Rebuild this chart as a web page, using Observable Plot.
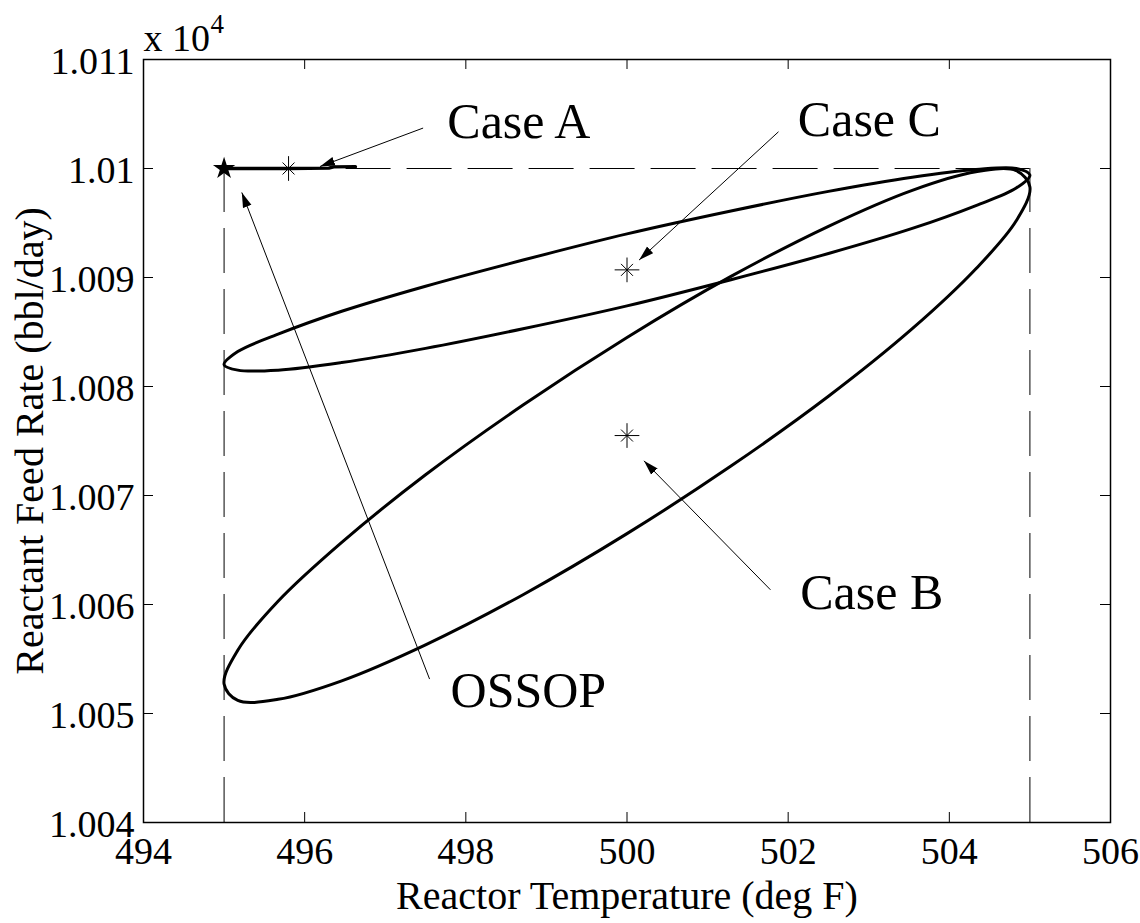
<!DOCTYPE html>
<html>
<head>
<meta charset="utf-8">
<script src="https://cdn.jsdelivr.net/npm/d3@7"></script>
<script src="https://cdn.jsdelivr.net/npm/@observablehq/plot@0.6"></script>
<style>
  html, body { margin: 0; padding: 0; background: #fff; }
</style>
</head>
<body>
<div id="chart"></div>
<script>
// Axis ticks (temperature in deg F, feed rate in bbl/day shown as x 10^4)
const xTicks = [494, 496, 498, 500, 502, 504, 506];
const xTickLabels = ["494", "496", "498", "500", "502", "504", "506"];
const yTicks = [10040, 10050, 10060, 10070, 10080, 10090, 10100, 10110];
const yTickLabels = ["1.004", "1.005", "1.006", "1.007", "1.008", "1.009", "1.01", "1.011"];

// Operating limits (dashed box)
const tempLimits = [495, 505];
const feedLimit = 10100;
const feedFloor = 10040;

// Case A trajectory along the feed-rate limit
const caseA_T = [495.0, 495.8, 496.30, 496.36, 496.63];
const caseA_F = [10100.0, 10100.0, 10100.03, 10100.15, 10100.17];

// Case B closed trajectory
const caseB_T = [505.00, 504.83, 504.33, 503.54, 502.50, 501.29, 500.00, 498.71, 497.50, 496.46, 495.67, 495.17,
                 495.00, 495.17, 495.67, 496.46, 497.50, 498.71, 500.00, 501.29, 502.50, 503.54, 504.33, 504.83];
const caseB_F = [10098.3, 10095.2, 10090.8, 10085.3, 10079.1, 10072.7, 10066.5, 10060.9, 10056.3, 10053.0, 10051.3, 10051.2,
                 10052.7, 10055.8, 10060.3, 10065.7, 10071.9, 10078.3, 10084.5, 10090.1, 10094.7, 10098.0, 10099.7, 10099.8];

// Case C closed trajectory
const caseC_T = [505.00, 504.83, 504.33, 503.54, 502.50, 501.29, 500.00, 498.71, 497.50, 496.46, 495.67, 495.17,
                 495.00, 495.17, 495.67, 496.46, 497.50, 498.71, 500.00, 501.29, 502.50, 503.54, 504.33, 504.83];
const caseC_F = [10099.4, 10098.2, 10096.6, 10094.5, 10092.2, 10089.8, 10087.4, 10085.3, 10083.5, 10082.2, 10081.5, 10081.5,
                 10082.0, 10083.2, 10084.8, 10086.9, 10089.2, 10091.6, 10094.0, 10096.1, 10097.9, 10099.2, 10099.9, 10100.0];

// Optimal steady-state operating point and the centres of each case
const ossopT = [495.0];
const ossopF = [10100.0];
const centreT = [495.8, 500.0, 500.0];
const centreF = [10100.0, 10075.5, 10090.7];

// Annotations: label text, label anchor, arrow start and arrow tip
const noteText = ["Case A", "Case C", "Case B", "OSSOP"];
const noteT = [497.77, 502.12, 502.15, 497.81];
const noteF = [10102.8, 10103.0, 10059.6, 10050.6];
const arrowFromT = [497.47, 501.88, 501.78, 497.55];
const arrowFromF = [10103.71, 10103.37, 10061.35, 10053.16];
const arrowToT = [496.19, 500.15, 500.21, 495.22];
const arrowToF = [10100.18, 10091.60, 10073.18, 10097.80];

const W = 1140, H = 923;
const mL = 143, mR = 30, mT = 59, mB = 101;
const plotW = W - mL - mR, plotH = H - mT - mB;
const tickLen = 10;
const serif = "Liberation Serif, Times New Roman, serif";

const pts = (xs, ys) => xs.map((x, i) => ({x, y: ys[i]}));

// Filled triangular arrowhead
function filledHead(color) {
  return d3.create("svg:marker")
    .attr("viewBox", "-15 -5 16 10")
    .attr("markerWidth", 16)
    .attr("markerHeight", 10)
    .attr("markerUnits", "userSpaceOnUse")
    .attr("orient", "auto")
    .attr("fill", color)
    .attr("stroke", "none")
    .call(m => m.append("path").attr("d", "M0,0L-15,-4.5L-15,4.5Z"))
    .node();
}

const chart = Plot.plot({
  width: W,
  height: H,
  marginLeft: mL,
  marginRight: mR,
  marginTop: mT,
  marginBottom: mB,
  style: {fontFamily: serif, background: "#fff", overflow: "visible"},
  x: {domain: [494, 506], axis: null},
  y: {domain: [10040, 10110], axis: null},
  marks: [
    // dashed operating limits
    Plot.ruleX(tempLimits, {x: d => d, y1: feedFloor, y2: feedLimit, stroke: "black", strokeWidth: 1, strokeDasharray: "45,16"}),
    Plot.ruleY([feedLimit], {y: d => d, x1: tempLimits[0], x2: tempLimits[1], stroke: "black", strokeWidth: 1, strokeDasharray: "45,16"}),

    // trajectories
    Plot.line(pts(caseB_T, caseB_F), {x: "x", y: "y", curve: "catmull-rom-closed", stroke: "black", strokeWidth: 3}),
    Plot.line(pts(caseC_T, caseC_F), {x: "x", y: "y", curve: "catmull-rom-closed", stroke: "black", strokeWidth: 3}),
    Plot.line(pts(caseA_T, caseA_F), {x: "x", y: "y", stroke: "black", strokeWidth: 3.4}),

    // centre markers (8-armed asterisk)
    Plot.dot(pts(centreT, centreF), {x: "x", y: "y", symbol: "plus", r: 8, stroke: "black", strokeWidth: 1, fill: "none"}),
    Plot.dot(pts(centreT, centreF), {x: "x", y: "y", symbol: "times", r: 5.5, stroke: "black", strokeWidth: 1, fill: "none"}),

    // OSSOP star
    Plot.dot(pts(ossopT, ossopF), {x: "x", y: "y", symbol: "star", r: 7, fill: "black", stroke: "none"}),

    // annotation arrows
    Plot.link(noteText, {
      x1: (d, i) => arrowFromT[i], y1: (d, i) => arrowFromF[i],
      x2: (d, i) => arrowToT[i], y2: (d, i) => arrowToF[i],
      stroke: "black", strokeWidth: 1, markerEnd: filledHead
    }),
    Plot.text(noteText, {
      x: (d, i) => noteT[i], y: (d, i) => noteF[i], text: d => d,
      textAnchor: "start", lineAnchor: "bottom", fontSize: 50, fill: "black", fontFamily: serif
    }),

    // box and inward ticks on all four sides
    Plot.frame({stroke: "black", strokeWidth: 1.5}),
    Plot.tickX(xTicks, {x: d => d, insetTop: plotH - tickLen, stroke: "black", strokeWidth: 1}),
    Plot.tickX(xTicks, {x: d => d, insetBottom: plotH - tickLen, stroke: "black", strokeWidth: 1}),
    Plot.tickY(yTicks, {y: d => d, insetRight: plotW - tickLen, stroke: "black", strokeWidth: 1}),
    Plot.tickY(yTicks, {y: d => d, insetLeft: plotW - tickLen, stroke: "black", strokeWidth: 1}),

    // tick labels
    Plot.text(xTicks, {x: d => d, text: (d, i) => xTickLabels[i], frameAnchor: "bottom", lineAnchor: "bottom", dy: 41, fontSize: 38, fill: "black", fontFamily: serif}),
    Plot.text(yTicks, {y: d => d, text: (d, i) => yTickLabels[i], frameAnchor: "left", textAnchor: "end", dx: -9, dy: 2, fontSize: 38, fill: "black", fontFamily: serif}),

    // exponent label
    Plot.text(["x 10"], {frameAnchor: "top-left", textAnchor: "start", lineAnchor: "bottom", dy: -9, fontSize: 38, fill: "black", fontFamily: serif}),
    Plot.text(["4"], {frameAnchor: "top-left", textAnchor: "start", lineAnchor: "bottom", dx: 67, dy: -27, fontSize: 27, fill: "black", fontFamily: serif}),

    // axis titles
    Plot.text(["Reactor Temperature (deg F)"], {frameAnchor: "bottom", textAnchor: "middle", lineAnchor: "bottom", dy: 86, fontSize: 40, fill: "black", fontFamily: serif}),
    Plot.text(["Reactant Feed Rate (bbl/day)"], {frameAnchor: "left", textAnchor: "middle", rotate: -90, lineAnchor: "bottom", dx: -101, fontSize: 40, fill: "black", fontFamily: serif})
  ]
});

document.getElementById("chart").appendChild(chart);
</script>
</body>
</html>
